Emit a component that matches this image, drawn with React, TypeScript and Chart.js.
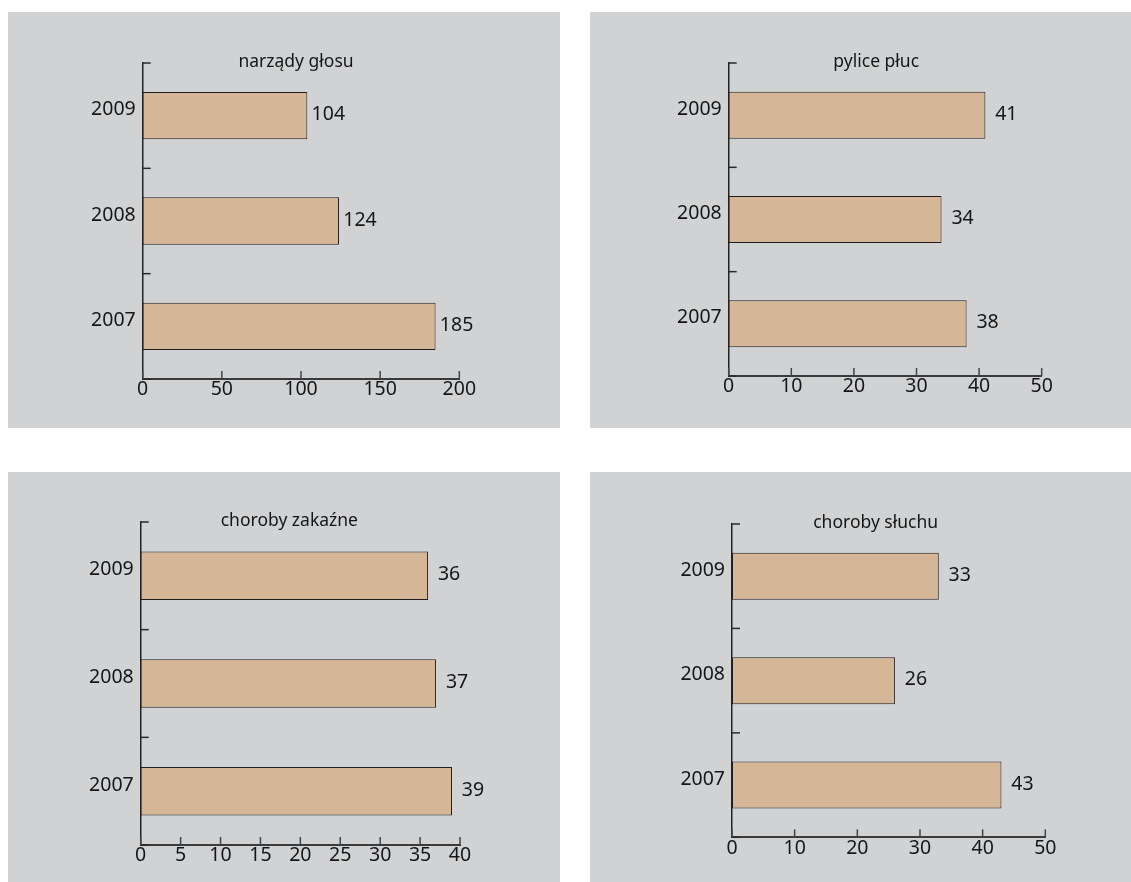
import React, { useEffect, useRef } from "react";
import { Chart, registerables } from "chart.js";

Chart.register(...registerables);

// ---- data ----
const YEARS = ["2009", "2008", "2007"];
const TITLES = ["narządy głosu", "pylice płuc", "choroby zakaźne", "choroby słuchu"];
const VOICE_ORGANS = [104, 124, 185];
const PNEUMOCONIOSIS = [41, 34, 38];
const INFECTIOUS = [36, 37, 39];
const HEARING = [33, 26, 43];
const X_MAX = [200, 50, 40, 50];
const X_STEP = [50, 10, 5, 10];
const SERIES = [VOICE_ORGANS, PNEUMOCONIOSIS, INFECTIOUS, HEARING];

// ---- layout / style ----
const PANEL_W = 552;
const PANEL_H = 416;
const Y_AXIS_W = 70;
const X_AXIS_H = 30;
const PANELS = [
  { left: 8, top: 12, area: { l: 134.7, r: 451.3, t: 51, b: 367 }, titleDx: -5 },
  { left: 590, top: 12, area: { l: 138.7, r: 451.7, t: 51, b: 364 }, titleDx: -9 },
  { left: 8, top: 472, area: { l: 132.7, r: 452, t: 50, b: 373 }, titleDx: -11 },
  { left: 590, top: 472, area: { l: 142, r: 455.3, t: 52, b: 365.3 }, titleDx: -13 },
];
const FONT = "'Noto Sans', sans-serif";
const TICK_SIZE = 19.5;
const TITLE_SIZE = 17.5;
const TEXT = "#161616";
const BAR_FILL = "#d5b798";
const BG = "#d1d2d4";

const decorPlugin = {
  id: "decor",
  afterDatasetsDraw(chart: any, _args: any, opts: any) {
    const ctx = chart.ctx;
    const xs = chart.scales.x;
    const ys = chart.scales.y;
    const ca = chart.chartArea;
    ctx.save();
    // y-axis inward ticks at category boundaries
    ctx.strokeStyle = "#2a2a2a";
    ctx.lineWidth = 1.5;
    const n = chart.data.labels.length;
    for (let i = 0; i <= n; i++) {
      const py = ys.getPixelForValue(i - 0.5);
      ctx.beginPath();
      ctx.moveTo(ca.left, py);
      ctx.lineTo(ca.left + 8, py);
      ctx.stroke();
    }
    // x-axis inward ticks
    ctx.strokeStyle = "#444";
    ctx.lineWidth = 1.5;
    xs.ticks.forEach((_t: any, i: number) => {
      const px = xs.getPixelForTick(i);
      ctx.beginPath();
      ctx.moveTo(px, ca.bottom);
      ctx.lineTo(px, ca.bottom - 8);
      ctx.stroke();
    });
    // value labels
    ctx.fillStyle = TEXT;
    ctx.font = `${TICK_SIZE}px ${FONT}`;
    ctx.textAlign = "center";
    ctx.textBaseline = "middle";
    const meta = chart.getDatasetMeta(0);
    meta.data.forEach((bar: any, i: number) => {
      const v = chart.data.datasets[0].data[i];
      ctx.fillText(String(v), bar.x + 21, bar.y - 1);
    });
    // title
    ctx.font = `${TITLE_SIZE}px ${FONT}`;
    ctx.textBaseline = "alphabetic";
    ctx.fillText(opts.title, (ca.left + ca.right) / 2 + opts.titleDx, ca.top + 4);
    ctx.restore();
  },
};

function Panel({ idx }: { idx: number }) {
  const ref = useRef<HTMLCanvasElement | null>(null);
  const p = PANELS[idx];
  useEffect(() => {
    if (!ref.current) return;
    const chart = new Chart(ref.current, {
      type: "bar",
      data: {
        labels: YEARS,
        datasets: [
          {
            data: SERIES[idx],
            backgroundColor: BAR_FILL,
            borderColor: "#1f1f1f",
            borderWidth: 1,
            borderSkipped: false,
            categoryPercentage: 1,
            barPercentage: 0.45,
          },
        ],
      },
      options: {
        indexAxis: "y",
        responsive: false,
        animation: false,
        devicePixelRatio: 1,
        layout: {
          padding: {
            left: p.area.l - Y_AXIS_W,
            right: PANEL_W - p.area.r,
            top: p.area.t,
            bottom: PANEL_H - p.area.b - X_AXIS_H,
          },
        },
        plugins: {
          legend: { display: false },
          tooltip: { enabled: false },
          title: { display: false },
          decor: { title: TITLES[idx], titleDx: p.titleDx },
        } as any,
        scales: {
          x: {
            type: "linear",
            min: 0,
            max: X_MAX[idx],
            grid: { display: false, drawTicks: false, tickLength: 0 },
            border: { display: true, color: "#3a3a3a", width: 2 },
            ticks: {
              stepSize: X_STEP[idx],
              color: TEXT,
              font: { family: FONT, size: TICK_SIZE },
              padding: -1,
              maxRotation: 0,
            },
            afterFit: (s: any) => {
              s.height = X_AXIS_H;
              s.paddingLeft = 0;
              s.paddingRight = 0;
              s.paddingTop = 0;
              s.paddingBottom = 0;
            },
          },
          y: {
            type: "category",
            grid: { display: false, drawTicks: false, tickLength: 0, offset: true },
            border: { display: true, color: "#222", width: 1.5 },
            ticks: {
              color: TEXT,
              font: { family: FONT, size: TICK_SIZE },
              padding: 7,
              labelOffset: -6,
            },
            afterFit: (s: any) => {
              s.width = Y_AXIS_W;
              s.paddingLeft = 0;
              s.paddingRight = 0;
              s.paddingTop = 0;
              s.paddingBottom = 0;
            },
          },
        },
      } as any,
      plugins: [decorPlugin as any],
    });
    return () => chart.destroy();
  }, [idx]);
  return (
    <div
      style={{
        position: "absolute",
        left: p.left,
        top: p.top,
        width: PANEL_W,
        height: PANEL_H,
        background: BG,
      }}
    >
      <canvas ref={ref} width={PANEL_W} height={PANEL_H} style={{ display: "block" }} />
    </div>
  );
}

export default function App() {
  return (
    <div
      style={{
        position: "fixed",
        left: 0,
        top: 0,
        width: "100vw",
        height: "100vh",
        overflow: "hidden",
        background: "#fff",
      }}
    >
      {PANELS.map((_, i) => (
        <Panel key={i} idx={i} />
      ))}
    </div>
  );
}
